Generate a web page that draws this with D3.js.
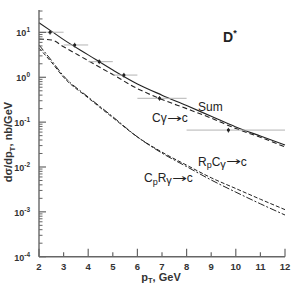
<!DOCTYPE html>
<html><head><meta charset="utf-8">
<script src="https://cdn.jsdelivr.net/npm/d3@7"></script>
<style>
html,body{margin:0;padding:0;background:#fff;}
text{font-family:"Liberation Sans",Arial,sans-serif;}
</style></head>
<body><svg id="c" width="299" height="285"></svg>
<script>
// ---- data ----
const ptCurve = [2, 2.5, 3, 4, 5, 6, 7, 8, 9, 10, 11, 12];
const sumVals  = [16.5, 10.7, 6.9, 3.16, 1.45, 0.71, 0.40, 0.234, 0.135, 0.078, 0.049, 0.031];
const cgVals   = [7.1, 6.8, 4.8, 2.34, 1.15, 0.56, 0.32, 0.20, 0.123, 0.072, 0.046, 0.028];
const rpcgVals = [4.47, 2.19, 1.0, 0.347, 0.126, 0.0468, 0.0214, 0.011, 0.00575, 0.00331, 0.00191, 0.00112];
const cprgVals = [5.25, 2.40, 1.07, 0.363, 0.132, 0.0468, 0.0204, 0.0102, 0.00513, 0.00275, 0.00151, 0.00085];

const dataPt  = [2.45, 3.45, 4.45, 5.45, 6.9, 9.7];
const dataVal = [10.1, 5.25, 2.23, 1.12, 0.34, 0.0665];
const dataXlo = [2, 3, 4, 5, 6, 8];
const dataXhi = [3, 4, 5, 6, 8, 12];
const dataErr = [0.12, 0.12, 0.12, 0.12, 0.12, 0.12]; // relative

const xTicks = [2, 3, 4, 5, 6, 7, 8, 9, 10, 11, 12];
const yDecades = [-4, -3, -2, -1, 0, 1];

// ---- layout ----
const svg = d3.select("#c");
const x = d3.scaleLinear().domain([2, 12]).range([39, 285]);
const y = d3.scaleLog().domain([1e-4, Math.pow(10, 1.5)]).range([256.7, 10]);
const axisCol = "#666";

// curves
const line = d3.line().x(d => x(d[0])).y(d => y(d[1])).curve(d3.curveMonotoneX);
function drawCurve(vals, dash, w) {
  svg.append("path").datum(ptCurve.map((p, i) => [p, vals[i]]))
    .attr("d", line).attr("fill", "none").attr("stroke", "#222")
    .attr("stroke-width", w).attr("stroke-dasharray", dash);
}
drawCurve(sumVals, null, 1.1);
drawCurve(cgVals, "5,3", 1.1);
drawCurve(rpcgVals, "4,2", 1.0);
drawCurve(cprgVals, "7,2,2,2", 1.0);

// data points with error bars
const eb = svg.append("g").attr("stroke", "#b4b4b4").attr("stroke-width", 1);
dataPt.forEach((p, i) => {
  eb.append("line").attr("x1", x(dataXlo[i])).attr("x2", x(dataXhi[i]))
    .attr("y1", y(dataVal[i])).attr("y2", y(dataVal[i]));
  eb.append("line").attr("x1", x(p)).attr("x2", x(p))
    .attr("y1", y(dataVal[i] * (1 - dataErr[i]))).attr("y2", y(dataVal[i] * (1 + dataErr[i])))
    .attr("stroke", "#444");
});
svg.append("g").selectAll("circle").data(dataPt).join("circle")
  .attr("cx", d => x(d)).attr("cy", (d, i) => y(dataVal[i])).attr("r", 1.6).attr("fill", "#222");

// axes
const gx = svg.append("g").attr("transform", "translate(0,256.7)");
gx.append("line").attr("x1", 39).attr("x2", 285).attr("stroke", axisCol).attr("stroke-width", 1.4);
xTicks.forEach(t => {
  const long = t % 2 === 0;
  gx.append("line").attr("x1", x(t)).attr("x2", x(t)).attr("y1", 0).attr("y2", long ? -8 : -4.5)
    .attr("stroke", axisCol).attr("stroke-width", 1.2);
  gx.append("text").attr("x", x(t)).attr("y", 13).attr("text-anchor", "middle")
    .attr("font-size", 9.5).attr("font-weight", "bold").attr("fill", "#333").text(t);
});

const gy = svg.append("g").attr("transform", "translate(39,0)");
gy.append("line").attr("y1", 10).attr("y2", 256.7).attr("stroke", axisCol).attr("stroke-width", 1.4);
yDecades.forEach(e => {
  const v = Math.pow(10, e);
  gy.append("line").attr("x1", 0).attr("x2", 7).attr("y1", y(v)).attr("y2", y(v))
    .attr("stroke", axisCol).attr("stroke-width", 1.2);
  for (let m = 2; m <= 9; m++) {
    const mv = m * v;
    if (mv > y.domain()[1]) break;
    gy.append("line").attr("x1", 0).attr("x2", 3.5).attr("y1", y(mv)).attr("y2", y(mv))
      .attr("stroke", axisCol).attr("stroke-width", 1);
  }
  const t = gy.append("text").attr("x", -9).attr("y", y(v) + 4).attr("text-anchor", "end")
    .attr("font-size", 9).attr("font-weight", "bold").attr("fill", "#333");
  t.append("tspan").text("10");
  t.append("tspan").attr("dy", -4).attr("font-size", 6.5).text(e);
});

// axis titles
const xt = svg.append("text").attr("x", 161).attr("y", 280.5).attr("text-anchor", "middle")
  .attr("font-size", 11).attr("font-weight", "bold").attr("fill", "#333");
xt.append("tspan").text("p");
xt.append("tspan").attr("dy", 2).attr("font-size", 7.5).text("T");
xt.append("tspan").attr("dy", -2).text(", GeV");

const yt = svg.append("text").attr("transform", "translate(12,142) rotate(-90)").attr("text-anchor", "middle")
  .attr("font-size", 11).attr("font-weight", "bold").attr("fill", "#333");
yt.append("tspan").text("dσ/dp");
yt.append("tspan").attr("dy", 3).attr("font-size", 8).text("T");
yt.append("tspan").attr("dy", -3).text(", nb/GeV");

// annotations: pieces [text, dy, size, stretchedWidth]
function label(px, py, parts) {
  let cx = px;
  parts.forEach(p => {
    const t = svg.append("text").attr("font-size", p[2] || 12).attr("fill", "#222").text(p[0]);
    if (p[3]) {
      t.style("font-family", "'DejaVu Sans'");
      const w = t.node().getComputedTextLength();
      const s = p[3] / w;
      t.attr("transform", `translate(${cx},${py + (p[1] || 0)}) scale(${s},1)`);
      cx += p[3];
    } else {
      t.attr("x", cx).attr("y", py + (p[1] || 0));
      cx += t.node().getComputedTextLength();
    }
  });
}
label(198, 111, [["Sum"]]);
label(152, 122, [["C"], ["γ"], ["→", -0.5, 11, 15], ["c"]]);
label(198, 165.7, [["R"], ["p", 2.5, 9], ["C"], ["γ", 2, 11], ["→", -0.5, 11, 15], ["c"]]);
label(144, 182.3, [["C"], ["p", 2.5, 9], ["R"], ["γ", 2, 11], ["→", -0.5, 11, 15], ["c"]]);

const dl = svg.append("text").attr("x", 223).attr("y", 42).attr("font-size", 14).attr("font-weight", "bold").attr("fill", "#222");
dl.append("tspan").text("D");
dl.append("tspan").attr("dy", -6).attr("font-size", 9).text("*");
</script></body></html>
